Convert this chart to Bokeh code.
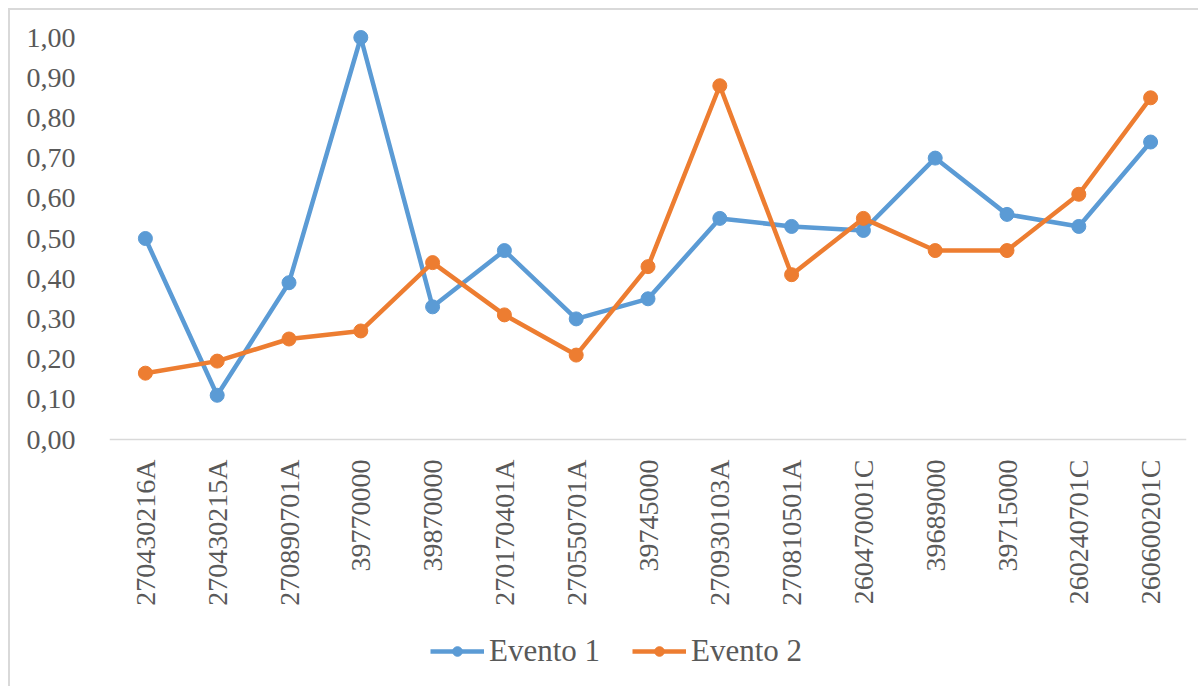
import math
from bokeh.plotting import figure
from bokeh.models import FactorRange, Range1d, FixedTicker, Legend, LegendItem
from bokeh.embed import file_html
from bokeh.resources import INLINE

categories = ["270430216A", "270430215A", "270890701A", "39770000", "39870000",
              "270170401A", "270550701A", "39745000", "270930103A", "270810501A",
              "260470001C", "39689000", "39715000", "260240701C", "260600201C"]
evento1 = [0.50, 0.11, 0.39, 1.00, 0.33, 0.47, 0.30, 0.35, 0.55, 0.53, 0.52, 0.70, 0.56, 0.53, 0.74]
evento2 = [0.165, 0.195, 0.25, 0.27, 0.44, 0.31, 0.21, 0.43, 0.88, 0.41, 0.55, 0.47, 0.47, 0.61, 0.85]
y_ticks = [0.0, 0.1, 0.2, 0.3, 0.4, 0.5, 0.6, 0.7, 0.8, 0.9, 1.0]
y_tick_labels = ["0,00", "0,10", "0,20", "0,30", "0,40", "0,50", "0,60", "0,70", "0,80", "0,90", "1,00"]
series_names = ["Evento 1", "Evento 2"]

BLUE = "#5B9BD5"
ORANGE = "#ED7D31"
TEXT = "#595959"
FONT = "Liberation Serif"

# frame spans page y 27..688; value 0 sits at y=439, 1.00 at y=37
px_per_unit = 402.0
y_start = -(688 - 439) / px_per_unit
y_end = 1.0 + 10 / px_per_unit

p = figure(width=1190, height=678,
           x_range=FactorRange(*categories, range_padding=0),
           y_range=Range1d(y_start, y_end),
           output_backend="svg", toolbar_location=None,
           min_border_left=99, min_border_right=14,
           min_border_top=17, min_border_bottom=0)
p.styles = {"margin-left": "8px", "margin-top": "8px",
            "border-left": "2px solid #D9D9D9", "border-top": "2px solid #D9D9D9"}
p.outline_line_color = None
p.grid.grid_line_color = None
p.background_fill_color = "white"
p.border_fill_color = "white"

l1 = p.line(categories, evento1, line_color=BLUE, line_width=4.5)
s1 = p.scatter(categories, evento1, size=14, fill_color=BLUE, line_color=BLUE)
l2 = p.line(categories, evento2, line_color=ORANGE, line_width=4.5)
s2 = p.scatter(categories, evento2, size=14, fill_color=ORANGE, line_color=ORANGE)

# y axis
p.yaxis.ticker = FixedTicker(ticks=y_ticks)
p.yaxis.major_label_overrides = {t: l for t, l in zip(y_ticks, y_tick_labels)}
p.yaxis.axis_line_color = None
p.yaxis.major_tick_line_color = None
p.yaxis.minor_tick_line_color = None
p.yaxis.major_label_text_font = FONT
p.yaxis.major_label_text_font_size = "28px"
p.yaxis.major_label_text_color = TEXT
p.yaxis.major_label_standoff = 28

# x axis, pinned at value 0
p.xaxis.fixed_location = 0
p.xaxis.axis_line_color = "#D9D9D9"
p.xaxis.axis_line_width = 1.5
p.xaxis.major_tick_line_color = None
p.xaxis.minor_tick_line_color = None
p.xaxis.major_label_orientation = math.pi / 2
p.xaxis.major_label_text_font = FONT
p.xaxis.major_label_text_font_size = "28px"
p.xaxis.major_label_text_color = TEXT
p.xaxis.major_label_standoff = 14

legend = Legend(items=[LegendItem(label=series_names[0], renderers=[l1, s1]),
                       LegendItem(label=series_names[1], renderers=[l2, s2])],
                orientation="horizontal", location=(317, 15),
                glyph_width=54, glyph_height=24, label_standoff=5, spacing=32,
                padding=4, margin=0,
                label_text_font=FONT, label_text_font_size="31px",
                label_text_color=TEXT,
                border_line_alpha=0, background_fill_alpha=0)
p.add_layout(legend, "center")

open("out.html", "w").write(file_html(p, INLINE))
